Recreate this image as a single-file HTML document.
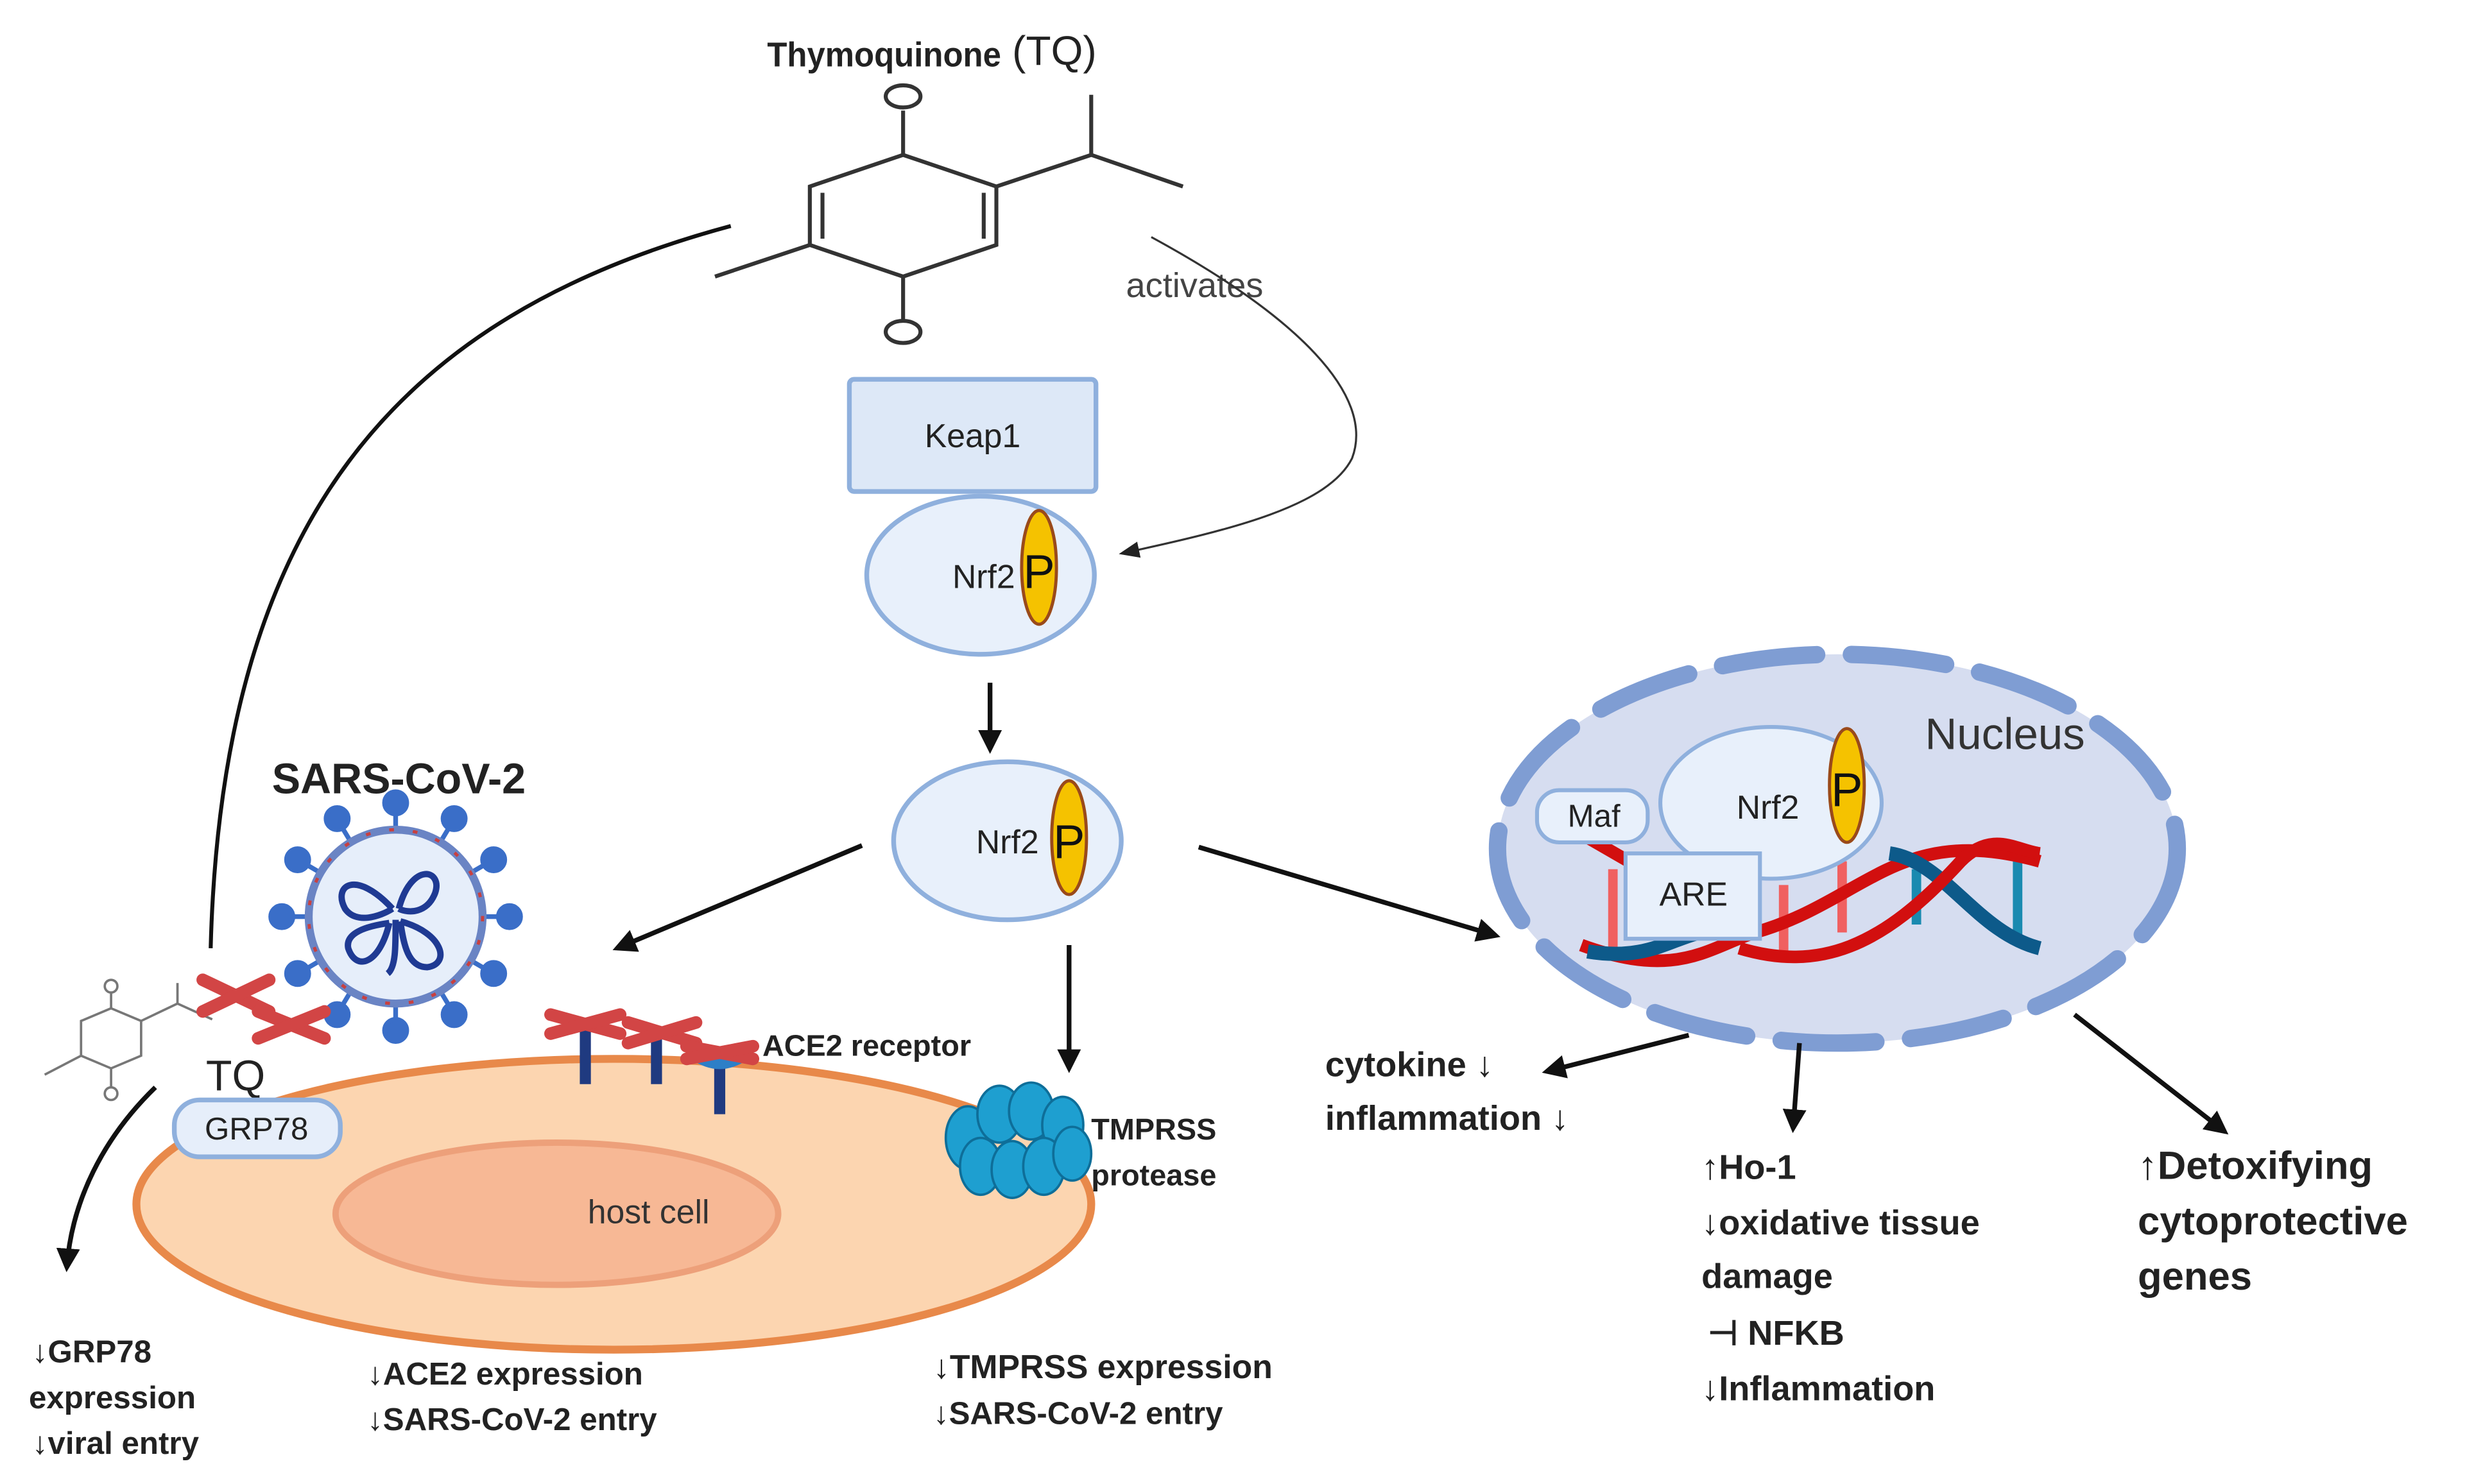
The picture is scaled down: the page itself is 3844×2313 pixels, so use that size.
<!DOCTYPE html>
<html><head><meta charset="utf-8"><style>
html,body{margin:0;padding:0;background:#fff;}
svg{display:block;}
text{font-family:"Liberation Sans",sans-serif;}
</style></head><body>
<svg width="3844" height="2313" viewBox="0 0 1560 939" xmlns="http://www.w3.org/2000/svg">
<defs>
<marker id="ah" viewBox="0 0 10 10" refX="8" refY="5" markerWidth="5" markerHeight="5" orient="auto"><path d="M0,0 L10,5 L0,10 z" fill="#111"/></marker>
<marker id="ah2" viewBox="0 0 10 10" refX="8" refY="5" markerWidth="10" markerHeight="10" orient="auto"><path d="M0,1 L10,5 L0,9 z" fill="#222"/></marker>
</defs>
<rect width="1560" height="939" fill="#fff"/>

<text x="485" y="42" font-size="22" font-weight="bold" fill="#222" textLength="148" lengthAdjust="spacingAndGlyphs">Thymoquinone</text>
<text x="640" y="41" font-size="26" fill="#222">(TQ)</text>

<g stroke="#333" stroke-width="2.5" fill="none">
<polygon points="571,98 630,118 630,155 571,175 512,155 512,118"/>
<line x1="520" y1="122" x2="520" y2="151"/>
<line x1="622" y1="122" x2="622" y2="151"/>
<line x1="571" y1="70" x2="571" y2="98"/>
<line x1="571" y1="175" x2="571" y2="202"/>
<line x1="630" y1="118" x2="690" y2="98"/>
<line x1="690" y1="98" x2="690" y2="60"/>
<line x1="690" y1="98" x2="748" y2="118"/>
<line x1="512" y1="155" x2="452" y2="175"/>
<ellipse cx="571" cy="61" rx="11" ry="7"/>
<ellipse cx="571" cy="210" rx="11" ry="7"/>
</g>

<path d="M462,143 C250,200 140,330 133,600" stroke="#111" stroke-width="2.5" fill="none"/>

<text x="712" y="188" font-size="22" fill="#444">activates</text>
<path d="M728,150 C820,200 870,250 855,290 C840,320 780,335 710,350" stroke="#333" stroke-width="1.3" fill="none" marker-end="url(#ah2)"/>

<rect x="537" y="240" width="156" height="71" rx="3" fill="#dde8f7" stroke="#8fb0dd" stroke-width="3"/>
<text x="615" y="283" font-size="21" text-anchor="middle" fill="#222">Keap1</text>

<ellipse cx="620" cy="364" rx="72" ry="50" fill="#e8f0fb" stroke="#8fb0dd" stroke-width="3"/>
<text x="622" y="372" font-size="21" text-anchor="middle" fill="#222">Nrf2</text>
<ellipse cx="657" cy="359" rx="11" ry="36" fill="#f5c200" stroke="#9a4a1a" stroke-width="2"/>
<text x="657" y="372" font-size="30" text-anchor="middle" fill="#111">P</text>

<line x1="626" y1="432" x2="626" y2="474" stroke="#111" stroke-width="3" marker-end="url(#ah)"/>

<ellipse cx="637" cy="532" rx="72" ry="50" fill="#e8f0fb" stroke="#8fb0dd" stroke-width="3"/>
<text x="637" y="540" font-size="21" text-anchor="middle" fill="#222">Nrf2</text>
<ellipse cx="676" cy="530" rx="11" ry="36" fill="#f5c200" stroke="#9a4a1a" stroke-width="2"/>
<text x="676" y="543" font-size="30" text-anchor="middle" fill="#111">P</text>

<line x1="545" y1="535" x2="390" y2="600" stroke="#111" stroke-width="3" marker-end="url(#ah)"/>
<line x1="676" y1="598" x2="676" y2="676" stroke="#111" stroke-width="3" marker-end="url(#ah)"/>
<line x1="758" y1="536" x2="946" y2="592" stroke="#111" stroke-width="3" marker-end="url(#ah)"/>

<text x="252" y="502" font-size="27" font-weight="bold" text-anchor="middle" fill="#222">SARS-CoV-2</text>
<g>
<g stroke="#3a6ec8" stroke-width="3" fill="#3a6ec8">
<line x1="250" y1="580" x2="250" y2="510"/><line x1="250" y1="580" x2="250" y2="650"/>
<line x1="250" y1="580" x2="320" y2="580"/><line x1="250" y1="580" x2="180" y2="580"/>
<line x1="250" y1="580" x2="286" y2="520"/><line x1="250" y1="580" x2="214" y2="520"/>
<line x1="250" y1="580" x2="286" y2="640"/><line x1="250" y1="580" x2="214" y2="640"/>
<line x1="250" y1="580" x2="310" y2="545"/><line x1="250" y1="580" x2="190" y2="545"/>
<line x1="250" y1="580" x2="310" y2="615"/><line x1="250" y1="580" x2="190" y2="615"/>
<circle cx="250" cy="508" r="7"/><circle cx="250" cy="652" r="7"/>
<circle cx="322" cy="580" r="7"/><circle cx="178" cy="580" r="7"/>
<circle cx="287" cy="518" r="7"/><circle cx="213" cy="518" r="7"/>
<circle cx="287" cy="642" r="7"/><circle cx="213" cy="642" r="7"/>
<circle cx="312" cy="544" r="7"/><circle cx="188" cy="544" r="7"/>
<circle cx="312" cy="616" r="7"/><circle cx="188" cy="616" r="7"/>
</g>
<circle cx="250" cy="580" r="55" fill="#e6eefa" stroke="#6a84c4" stroke-width="5"/>
<circle cx="250" cy="580" r="55" fill="none" stroke="#c84040" stroke-width="2" stroke-dasharray="3 12"/>
<g stroke="#1f3a93" stroke-width="4" fill="none">
<path d="M248,575 C225,550 210,560 218,575 C225,585 240,580 248,575"/>
<path d="M252,575 C260,545 280,550 275,565 C270,578 258,578 252,575"/>
<path d="M253,583 C280,590 285,610 270,612 C258,612 255,598 253,583"/>
<path d="M246,584 C240,610 225,615 220,600 C218,590 232,586 246,584"/>
<path d="M250,582 C250,600 250,612 245,616"/>
</g>
</g>

<g stroke="#777" stroke-width="1.5" fill="none">
<polygon points="70,638 89,646 89,668 70,676 51,668 51,646"/>
<line x1="70" y1="628" x2="70" y2="638"/><line x1="70" y1="676" x2="70" y2="688"/>
<ellipse cx="70" cy="624" rx="4" ry="4"/><ellipse cx="70" cy="692" rx="4" ry="4"/>
<line x1="89" y1="646" x2="112" y2="635"/><line x1="112" y1="635" x2="112" y2="622"/><line x1="112" y1="635" x2="134" y2="645"/>
<line x1="51" y1="668" x2="28" y2="680"/>
</g>
<g stroke="#d24545" stroke-width="8" stroke-linecap="round">
<line x1="128" y1="620" x2="170" y2="640"/><line x1="128" y1="640" x2="170" y2="620"/>
<line x1="163" y1="640" x2="205" y2="657"/><line x1="163" y1="657" x2="205" y2="640"/>
</g>
<text x="130" y="690" font-size="27" fill="#222">TQ</text>

<path d="M98,688 C65,720 45,760 42,802" stroke="#111" stroke-width="3" fill="none" marker-end="url(#ah)"/>

<ellipse cx="388" cy="762" rx="302" ry="92" fill="#fcd5b0" stroke="#e8894a" stroke-width="5"/>
<ellipse cx="352" cy="768" rx="140" ry="45" fill="#f7b895" stroke="#eda07a" stroke-width="4"/>
<text x="410" y="774" font-size="21" text-anchor="middle" fill="#333">host cell</text>
<rect x="110" y="696" width="105" height="36" rx="16" fill="#e6eefa" stroke="#8fb0dd" stroke-width="3"/>
<text x="162" y="721" font-size="20" text-anchor="middle" fill="#222">GRP78</text>

<g stroke="#1f3a80" stroke-width="7">
<line x1="370" y1="648" x2="370" y2="686"/><line x1="415" y1="655" x2="415" y2="686"/><line x1="455" y1="670" x2="455" y2="705"/>
</g>
<path d="M434,668 Q455,685 476,668 Z" fill="#2d7fc7"/>
<g stroke="#d24545" stroke-width="8" stroke-linecap="round">
<line x1="348" y1="642" x2="392" y2="654"/><line x1="348" y1="654" x2="392" y2="642"/>
<line x1="397" y1="647" x2="440" y2="660"/><line x1="397" y1="660" x2="440" y2="647"/>
<line x1="434" y1="662" x2="476" y2="670"/><line x1="434" y1="670" x2="476" y2="662"/>
</g>
<text x="482" y="668" font-size="19" font-weight="bold" fill="#222">ACE2 receptor</text>

<g fill="#1e9fd0" stroke="#0e6e99" stroke-width="1.5">
<ellipse cx="612" cy="720" rx="14" ry="20"/><ellipse cx="632" cy="705" rx="14" ry="18"/><ellipse cx="652" cy="703" rx="14" ry="18"/><ellipse cx="672" cy="712" rx="13" ry="18"/>
<ellipse cx="620" cy="738" rx="13" ry="18"/><ellipse cx="640" cy="740" rx="13" ry="18"/><ellipse cx="660" cy="738" rx="13" ry="18"/><ellipse cx="678" cy="730" rx="12" ry="17"/>
</g>
<text x="690" y="721" font-size="19" font-weight="bold" fill="#222">TMPRSS</text>
<text x="690" y="750" font-size="19" font-weight="bold" fill="#222">protease</text>

<g font-size="20" font-weight="bold" fill="#222">
<text x="20" y="862">↓GRP78</text>
<text x="18" y="891">expression</text>
<text x="20" y="920">↓viral entry</text>
<text x="232" y="876">↓ACE2 expression</text>
<text x="232" y="905">↓SARS-CoV-2 entry</text>
<text x="590" y="872" font-size="21">↓TMPRSS expression</text>
<text x="590" y="901">↓SARS-CoV-2 entry</text>
</g>

<ellipse cx="1162" cy="537" rx="215" ry="123" fill="#d6ddf0"/>
<ellipse cx="1162" cy="537" rx="215" ry="123" fill="none" stroke="#7f9dd3" stroke-width="11" stroke-linecap="round" stroke-dasharray="60 22"/>
<text x="1268" y="474" font-size="28" text-anchor="middle" fill="#333">Nucleus</text>
<g stroke-width="6">
<line x1="1020" y1="550" x2="1020" y2="605" stroke="#f06060"/><line x1="1128" y1="560" x2="1128" y2="605" stroke="#f06060"/>
<line x1="1165" y1="545" x2="1165" y2="590" stroke="#f06060"/><line x1="1212" y1="550" x2="1212" y2="585" stroke="#1a8ab0"/>
<line x1="1276" y1="545" x2="1276" y2="595" stroke="#1a8ab0"/>
</g>
<path d="M1000,598 C1060,620 1080,600 1110,590 C1180,570 1200,520 1290,545" stroke="#d20f0f" stroke-width="8" fill="none"/>
<path d="M1004,530 L1030,545" stroke="#d20f0f" stroke-width="8"/>
<path d="M1004,602 C1040,608 1055,595 1075,590" stroke="#0d5a8a" stroke-width="9" fill="none"/>
<path d="M1195,540 C1230,545 1250,590 1290,600" stroke="#0d5a8a" stroke-width="9" fill="none"/>
<path d="M1100,600 C1150,615 1190,600 1240,545 C1260,525 1275,538 1290,540" stroke="#d20f0f" stroke-width="8" fill="none"/>
<ellipse cx="1120" cy="508" rx="70" ry="48" fill="#e8f0fb" stroke="#8fb0dd" stroke-width="2.5"/>
<text x="1118" y="518" font-size="21" text-anchor="middle" fill="#222">Nrf2</text>
<ellipse cx="1168" cy="497" rx="11" ry="36" fill="#f5c200" stroke="#9a4a1a" stroke-width="2"/>
<text x="1168" y="510" font-size="30" text-anchor="middle" fill="#111">P</text>
<rect x="972" y="500" width="70" height="33" rx="14" fill="#e8f0fb" stroke="#8fb0dd" stroke-width="2.5"/>
<text x="1008" y="523" font-size="20" text-anchor="middle" fill="#222">Maf</text>
<rect x="1028" y="540" width="85" height="54" fill="#e8f0fb" stroke="#8fb0dd" stroke-width="2.5"/>
<text x="1071" y="573" font-size="21" text-anchor="middle" fill="#222">ARE</text>

<line x1="1068" y1="655" x2="978" y2="678" stroke="#111" stroke-width="3" marker-end="url(#ah)"/>
<line x1="1138" y1="660" x2="1134" y2="714" stroke="#111" stroke-width="3" marker-end="url(#ah)"/>
<line x1="1312" y1="642" x2="1407" y2="716" stroke="#111" stroke-width="3" marker-end="url(#ah)"/>

<g font-weight="bold" fill="#222">
<text x="838" y="681" font-size="22">cytokine ↓</text>
<text x="838" y="715" font-size="22">inflammation ↓</text>
<text x="1076" y="746" font-size="22">↑Ho-1</text>
<text x="1076" y="781" font-size="22">↓oxidative tissue</text>
<text x="1076" y="815" font-size="22">damage</text>
<text x="1080" y="851" font-size="22">⊣ NFKB</text>
<text x="1076" y="886" font-size="22">↓Inflammation</text>
<text x="1352" y="746" font-size="25">↑Detoxifying</text>
<text x="1352" y="781" font-size="25">cytoprotective</text>
<text x="1352" y="816" font-size="25">genes</text>
</g>
</svg>
</body></html>
